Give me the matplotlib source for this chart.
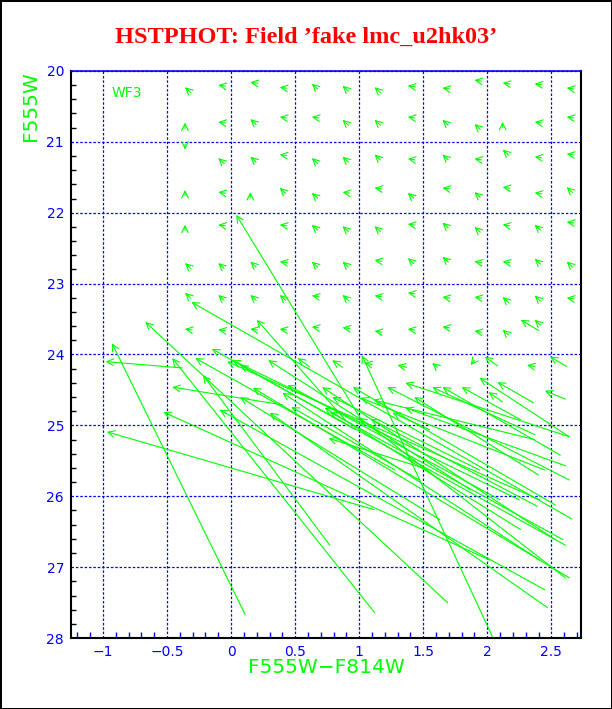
# Diagrama color-magnitud de estrellas falsas (HSTPHOT, WF3)
# flechas: de la posicion medida hacia la posicion de entrada
import numpy as np
import matplotlib
matplotlib.use('Agg')
import matplotlib.pyplot as plt

verde = '#00ff00'
azul = '#0000ff'

# columnas de la rejilla de flechas cortas (F555W-F814W)
col_x = [-0.36, -0.10, 0.15, 0.38, 0.63, 0.87, 1.12, 1.38, 1.65, 1.90, 2.12, 2.37, 2.62]

# F555W de la punta de cada flecha corta, fila por fila
fila_y = [
    [20.23, 20.20, 20.16, 20.23, 20.18, 20.21, 20.23, 20.21, 20.24, 20.13, 20.17, 20.18, 20.24],
    [20.73, 20.72, 20.68, 20.65, 20.65, 20.69, 20.69, 20.65, 20.69, 20.75, 20.72, 20.72, 20.65],
    [21.11, 21.23, 21.21, 21.18, 21.23, 21.21, 21.18, 21.24, 21.18, 21.24, 21.11, 21.21, 21.17],
    [21.68, 21.71, 21.71, 21.65, 21.72, 21.71, 21.65, 21.72, 21.65, 21.71, 21.64, 21.72, 21.64],
    [22.17, 22.17, 22.17, 22.17, 22.17, 22.19, 22.19, 22.16, 22.14, 22.20, 22.17, 22.17, 22.13],
    [22.71, 22.71, 22.69, 22.69, 22.69, 22.69, 22.67, 22.64, 22.62, 22.69, 22.69, 22.65, 22.69],
    [23.13, 23.16, 23.16, 23.16, 23.17, 23.16, 23.17, 23.13, 23.19, 23.19, 23.19, 23.17, 23.20],
    [23.64, 23.65, 23.64, 23.64, 23.61, 23.62, 23.67, 23.64, 23.61, 23.67, 23.65, 23.51, 23.61],
]
# forma: n = arriba-izquierda, l = izquierda, u = arriba, d = abajo, - = sin flecha
fila_forma = [
    "nlllnnnllllll",
    "ulnllnnlnnull",
    "dnnlnnnlnlnll",
    "ulunnllnlnlln",
    "ul-lnnnlnnlnl",
    "nnnlnnlnnllnn",
    "nnnnlnllllnnl",
    "llllllllllnn-",
]
desplaz = {'n': (0.045, 0.075), 'l': (0.055, 0.015), 'u': (0.0, 0.08), 'd': (0.0, -0.08)}

# flechas largas: punta (cabeza) y origen (cola)
cabeza_x = [2.26, 0.52, 0.79, 1.04, 1.30, 1.57, 1.87, 1.98, 2.31, 2.49,
            -0.98, -0.93, -0.67, -0.31, 0.04, 0.20, -0.46, -0.28, -0.15, -0.03,
            0.01, 0.07, 0.29, -0.46, -0.22, 0.07, 0.17, 0.44, 0.40, 0.71,
            0.79, 0.95, 1.01, 1.11, 1.22, 1.26, 1.36, 1.36, 1.43, 1.57,
            1.65, 1.80, 1.94, 2.08, 2.01, 2.45, -0.53, -0.09, -0.97, 0.30,
            0.47, 0.73, 0.76, 1.00, 1.09, 0.77, 1.02]
cabeza_y = [23.51, 24.05, 24.08, 24.12, 24.15, 24.12, 24.15, 24.03, 24.15, 24.03,
            24.10, 23.84, 23.54, 23.26, 22.03, 23.51, 24.05, 24.05, 23.92, 24.10,
            24.08, 24.15, 24.08, 24.46, 24.29, 24.60, 24.47, 24.43, 24.54, 24.46,
            24.60, 24.46, 24.61, 24.64, 24.46, 24.82, 24.40, 24.75, 24.60, 24.46,
            24.46, 24.46, 24.33, 24.39, 24.53, 24.51, 24.81, 24.78, 25.09, 24.82,
            24.74, 24.75, 25.18, 24.89, 24.91, 24.81, 24.01]
cola_x = [2.40, 0.61, 0.87, 1.10, 1.37, 1.61, 1.90, 2.08, 2.37, 2.62,
          -0.38, 0.11, 1.69, 2.66, 1.04, 0.89, 1.12, 1.28, 0.97, 2.41,
          2.25, 2.61, 1.87, 0.40, 0.77, 1.63, 2.64, 2.10, 2.41, 2.53,
          1.94, 2.53, 2.45, 2.37, 2.64, 1.55, 2.64, 2.61, 2.40, 2.37,
          2.57, 2.26, 2.64, 2.36, 2.12, 2.61, 2.02, 2.45, 1.12, 2.47,
          1.47, 2.26, 1.55, 2.61, 2.39, 2.59, 2.04]
cola_y = [23.66, 24.17, 24.18, 24.14, 24.18, 24.18, 24.08, 24.16, 24.17, 24.17,
          24.19, 27.67, 27.50, 26.32, 24.99, 24.92, 27.64, 25.63, 25.06, 26.05,
          26.05, 26.69, 25.91, 24.71, 26.69, 26.33, 27.15, 26.05, 26.90, 26.61,
          25.63, 26.12, 25.63, 25.20, 25.77, 25.06, 25.16, 25.57, 25.70, 25.13,
          25.42, 24.92, 25.16, 24.68, 24.67, 24.63, 26.90, 27.32, 26.19, 27.57,
          25.77, 26.47, 25.63, 27.15, 26.14, 26.61, 27.98]

xticks = [-1, -0.5, 0, 0.5, 1, 1.5, 2, 2.5]
xtick_txt = ['\u22121', '\u22120.5', '0', '0.5', '1', '1.5', '2', '2.5']
yticks = [20, 21, 22, 23, 24, 25, 26, 27, 28]

fig = plt.figure(figsize=(6.12, 7.09), dpi=100)
fig.patch.set_edgecolor('black')
fig.patch.set_linewidth(2)
ax = fig.add_axes([0.116, 0.100, 0.833, 0.800])

estilo = dict(arrowstyle='->,head_length=0.6,head_width=0.3', color=verde,
              lw=0.8, shrinkA=0, shrinkB=0, mutation_scale=8)

# flechas cortas de la rejilla
for yy, forma in zip(fila_y, fila_forma):
    for xx, y0, f in zip(col_x, yy, forma):
        if f == '-':
            continue
        dx, dy = desplaz[f]
        ax.annotate('', xy=(xx, y0), xytext=(xx + dx, y0 + dy), arrowprops=estilo)

# flechas largas
for hx, hy, tx, ty in zip(cabeza_x, cabeza_y, cola_x, cola_y):
    ax.annotate('', xy=(hx, hy), xytext=(tx, ty), arrowprops=estilo)

ax.set_xlim(-1.25, 2.73)
ax.set_ylim(28, 20)
ax.set_xticks(xticks, xtick_txt)
ax.set_yticks(yticks)
ax.set_xticks(np.arange(-1.2, 2.71, 0.1), minor=True)
ax.set_yticks(np.arange(20.2, 28, 0.2), minor=True)
ax.tick_params(which='major', length=0, colors=azul, labelsize=10)
ax.tick_params(axis='x', which='major', pad=5)
ax.tick_params(axis='y', which='major', pad=5)
ax.tick_params(axis='x', which='minor', direction='in', length=4.3, width=1, color=azul)
ax.tick_params(axis='y', which='minor', direction='in', length=3.5, width=1, color='black')
ax.grid(True, which='major', color=azul, linestyle=(0, (2, 1.5)), linewidth=0.9)
ax.set_axisbelow(True)

for lado in ['left', 'bottom', 'right']:
    ax.spines[lado].set_color('black')
    ax.spines[lado].set_linewidth(1.5)
ax.spines['top'].set_color(azul)
ax.spines['top'].set_linewidth(1.2)

ax.text(-0.93, 20.31, 'WF3', color=verde, fontsize=10, va='center', ha='left')

fig.text(0.5, 0.947, 'HSTPHOT: Field \u2019fake lmc_u2hk03\u2019', color='red',
         fontsize=17.5, fontweight='bold', family='Liberation Serif', ha='center', va='center')
fig.text(0.534, 0.058, 'F555W\u2212F814W', color=verde, fontsize=14.5, ha='center', va='center')
fig.text(0.050, 0.850, 'F555W', color=verde, fontsize=14.5, rotation=90, ha='center', va='center')

fig.savefig('out.png', dpi=100, edgecolor=fig.get_edgecolor())
